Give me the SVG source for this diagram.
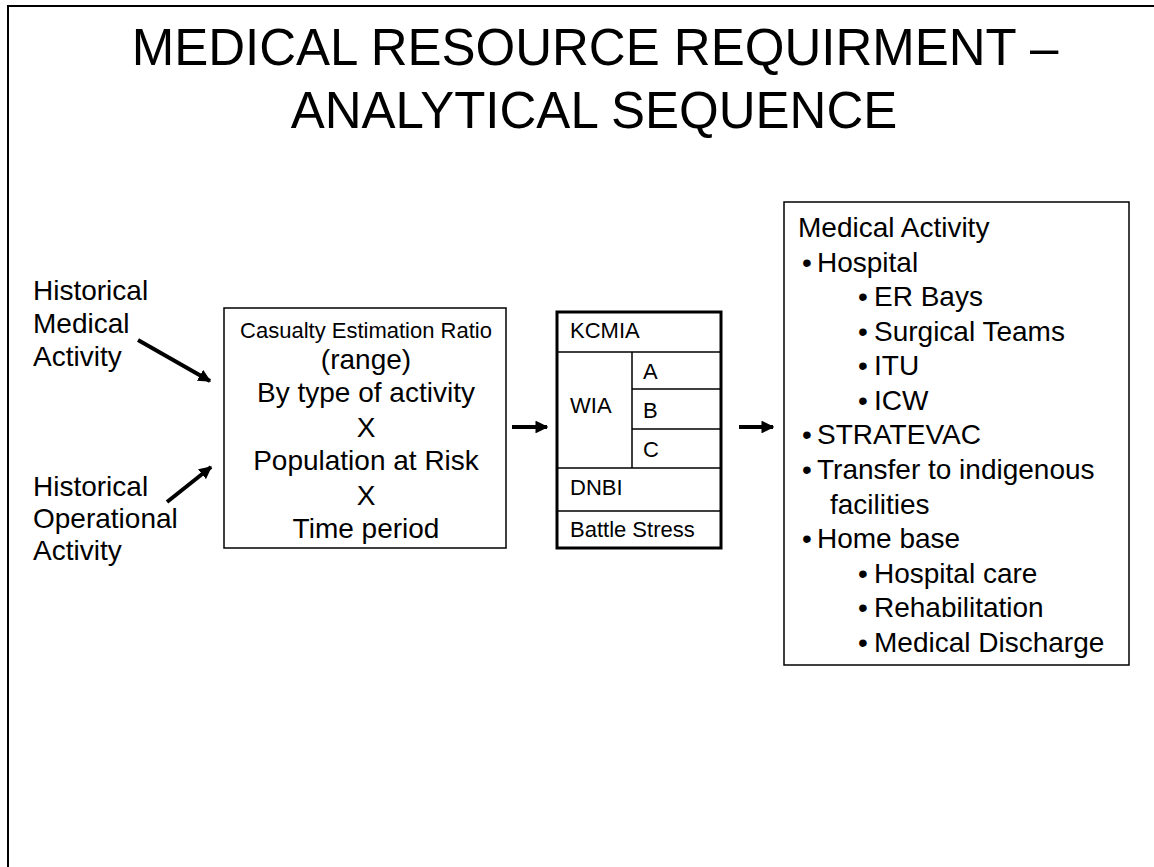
<svg xmlns="http://www.w3.org/2000/svg" width="1154" height="867" viewBox="0 0 1154 867">
<style>
text{font-family:"Liberation Sans",Arial,sans-serif;fill:#000}
.t{font-size:51px;text-anchor:middle}
.l{font-size:28px}
.c{font-size:28px;text-anchor:middle}
.s{font-size:22px}
.box{fill:#fff;stroke:#000;stroke-width:1.5}
.thin{stroke:#000;stroke-width:1.5;fill:none}
.arr{stroke:#000;stroke-width:4;fill:none;marker-end:url(#ah)}
</style>
<defs>
<marker id="ah" viewBox="0 0 10 10" refX="9" refY="5" markerWidth="3.2" markerHeight="3.2" orient="auto" markerUnits="strokeWidth">
<path d="M0,0 L10,5 L0,10 z" fill="#000"/>
</marker>
</defs>
<rect width="1154" height="867" fill="#fff"/>
<path d="M8,867 V6 H1154" fill="none" stroke="#000" stroke-width="2"/>
<g id="title">
<text class="t" x="595" y="65">MEDICAL RESOURCE REQUIRMENT –</text>
<text class="t" x="594" y="128">ANALYTICAL SEQUENCE</text>
</g>
<g id="hist-medical">
<text class="l" x="33" y="300">Historical</text>
<text class="l" x="33" y="333">Medical</text>
<text class="l" x="33" y="366">Activity</text>
</g>
<g id="hist-operational">
<text class="l" x="33" y="496">Historical</text>
<text class="l" x="33" y="528">Operational</text>
<text class="l" x="33" y="560">Activity</text>
</g>
<g id="casualty-estimation">
<rect class="box" x="224" y="308" width="282" height="240"/>
<text class="s" x="366" y="338" text-anchor="middle">Casualty Estimation Ratio</text>
<text class="c" x="366" y="369">(range)</text>
<text class="c" x="366" y="402">By type of activity</text>
<text class="c" x="366" y="437">X</text>
<text class="c" x="366" y="470">Population at Risk</text>
<text class="c" x="366" y="505">X</text>
<text class="c" x="366" y="538">Time period</text>
</g>
<g id="casualty-types">
<rect x="557" y="312" width="164" height="236" fill="#fff" stroke="#000" stroke-width="3"/>
<path class="thin" d="M557,352 H721 M632,352 V468 M632,389 H721 M632,429 H721 M557,468 H721 M557,511 H721"/>
<text class="s" x="570" y="338">KCMIA</text>
<text class="s" x="570" y="413">WIA</text>
<text class="s" x="643" y="379">A</text>
<text class="s" x="643" y="418">B</text>
<text class="s" x="643" y="457">C</text>
<text class="s" x="570" y="495">DNBI</text>
<text class="s" x="570" y="537">Battle Stress</text>
</g>
<g id="medical-activity">
<rect class="box" x="784" y="202" width="345" height="463"/>
<text class="l" x="798" y="237">Medical Activity</text>
<text class="l" x="802" y="272">•</text><text class="l" x="817" y="272">Hospital</text>
<text class="l" x="858" y="306">•</text><text class="l" x="874" y="306">ER Bays</text>
<text class="l" x="858" y="341">•</text><text class="l" x="874" y="341">Surgical Teams</text>
<text class="l" x="858" y="375">•</text><text class="l" x="874" y="375">ITU</text>
<text class="l" x="858" y="410">•</text><text class="l" x="874" y="410">ICW</text>
<text class="l" x="802" y="444">•</text><text class="l" x="817" y="444">STRATEVAC</text>
<text class="l" x="802" y="479">•</text><text class="l" x="817" y="479">Transfer to indigenous</text>
<text class="l" x="830" y="514">facilities</text>
<text class="l" x="802" y="548">•</text><text class="l" x="817" y="548">Home base</text>
<text class="l" x="858" y="583">•</text><text class="l" x="874" y="583">Hospital care</text>
<text class="l" x="858" y="617">•</text><text class="l" x="874" y="617">Rehabilitation</text>
<text class="l" x="858" y="652">•</text><text class="l" x="874" y="652">Medical Discharge</text>
</g>
<g id="connectors">
<line class="arr" x1="138" y1="340" x2="210" y2="381"/>
<line class="arr" x1="167" y1="502" x2="211" y2="467"/>
<line class="arr" x1="512" y1="427" x2="547" y2="427"/>
<line class="arr" x1="739" y1="427" x2="773" y2="427"/>
</g>
</svg>
